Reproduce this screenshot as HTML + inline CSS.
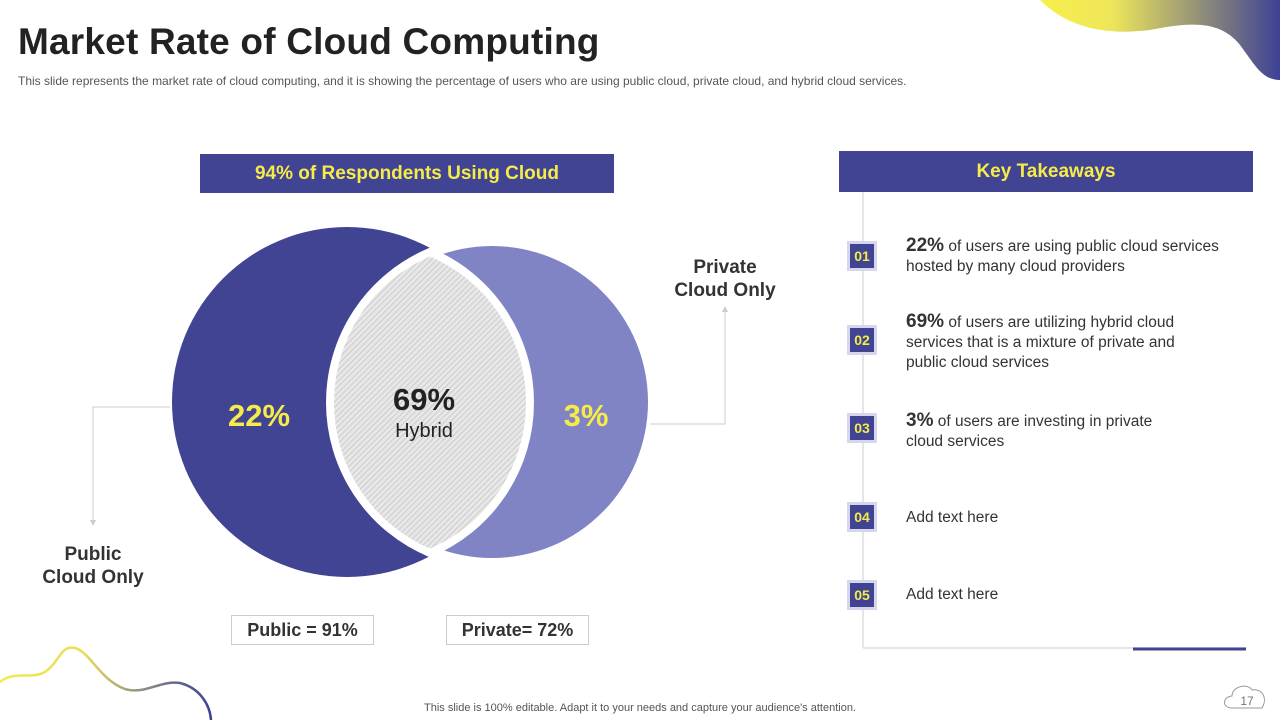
<!DOCTYPE html>
<html><head><meta charset="utf-8">
<style>
body{margin:0;width:1280px;height:720px;overflow:hidden;background:#fff;font-family:"Liberation Sans",sans-serif;position:relative}
.abs{position:absolute}
h1{position:absolute;left:18px;top:21px;margin:0;font-size:37px;font-weight:bold;color:#222;letter-spacing:0.2px}
.sub{left:18px;top:74px;font-size:12px;color:#555}
.hdr{background:#414393;color:#f5ec4a;font-weight:bold;font-size:19px;text-align:center}
.num{width:30px;height:30px;background:#414393;border:3px solid #d6d7ee;box-sizing:border-box;color:#f5ec4a;font-weight:bold;font-size:14px;text-align:center;line-height:24px;left:847px}
.txt{left:906px;font-size:15.5px;color:#333;line-height:20px}
.txt b{font-size:19px;color:#333}
.lbl{font-size:19px;font-weight:bold;color:#333;text-align:center;line-height:23px}
.box{border:1px solid #ccc;font-size:18px;font-weight:bold;color:#333;text-align:center;line-height:28px;height:28px}
</style></head><body>
<svg class="abs" style="left:0;top:0" width="1280" height="720">
<defs>
<linearGradient id="g1" x1="0" x2="1"><stop offset="0" stop-color="#f7ef4b"/><stop offset="0.3" stop-color="#eee65a"/><stop offset="1" stop-color="#3e4196"/></linearGradient>
<linearGradient id="g2" x1="0" x2="1"><stop offset="0" stop-color="#f3ea52"/><stop offset="0.4" stop-color="#e6dd5a"/><stop offset="0.7" stop-color="#888"/><stop offset="1" stop-color="#3e4196"/></linearGradient>
<pattern id="hatch" width="4" height="4" patternUnits="userSpaceOnUse" patternTransform="rotate(45)"><rect width="4" height="4" fill="#e8e8e8"/><rect width="1.2" height="4" fill="#cfcfcf"/></pattern>
</defs>
<path d="M1040,0 C1070,30 1110,35 1150,30 C1190,22 1220,20 1240,45 C1255,65 1262,80 1280,80 L1280,0 Z" fill="url(#g1)"/>
<path d="M0,682 C15,670 30,680 45,672 C60,662 60,645 75,648 C90,652 100,680 125,689 C145,695 160,680 180,683 C200,688 210,705 211,720" fill="none" stroke="url(#g2)" stroke-width="2.5"/>
<polyline points="170,407 93,407 93,522" fill="none" stroke="#ccc" stroke-width="1"/>
<polygon points="90,520 96,520 93,526" fill="#ccc"/>
<polyline points="650,424 725,424 725,310" fill="none" stroke="#ccc" stroke-width="1"/>
<polygon points="722,312 728,312 725,306" fill="#ccc"/>
<line x1="863" y1="192" x2="863" y2="648" stroke="#ddd" stroke-width="1.5"/>
<line x1="863" y1="648" x2="1246" y2="648" stroke="#ddd" stroke-width="1.5"/>
<line x1="1133" y1="649" x2="1246" y2="649" stroke="#414393" stroke-width="3"/>
<path d="M1232,708 C1222,708 1222,697 1232,696 C1232,686 1248,683 1252,690 C1262,688 1268,698 1262,708 Z" fill="none" stroke="#999" stroke-width="1"/>
<g id="venn"></g>
</svg>
<h1>Market Rate of Cloud Computing</h1>
<div class="abs sub">This slide represents the market rate of cloud computing, and it is showing the percentage of users who are using public cloud, private cloud, and hybrid cloud services.</div>
<div class="abs hdr" style="left:200px;top:154px;width:414px;height:39px;line-height:39px">94% of Respondents Using Cloud</div>
<div class="abs hdr" style="left:839px;top:151px;width:414px;height:41px;line-height:41px">Key Takeaways</div>
<div class="abs lbl" style="left:30px;top:543px;width:126px">Public<br>Cloud Only</div>
<div class="abs lbl" style="left:660px;top:256px;width:130px">Private<br>Cloud Only</div>
<div class="abs box" style="left:231px;top:615px;width:141px">Public = 91%</div>
<div class="abs box" style="left:446px;top:615px;width:141px">Private= 72%</div>
<div class="abs num" style="top:241px">01</div>
<div class="abs num" style="top:325px">02</div>
<div class="abs num" style="top:413px">03</div>
<div class="abs num" style="top:502px">04</div>
<div class="abs num" style="top:580px">05</div>
<div class="abs txt" style="top:236px"><b>22%</b> of users are using public cloud services<br>hosted by many cloud providers</div>
<div class="abs txt" style="top:312px"><b>69%</b> of users are utilizing hybrid cloud<br>services that is a mixture of private and<br>public cloud services</div>
<div class="abs txt" style="top:411px"><b>3%</b> of users are investing in private<br>cloud services</div>
<div class="abs txt" style="top:508px">Add text here</div>
<div class="abs txt" style="top:585px">Add text here</div>
<div class="abs" style="left:0;width:1280px;top:702px;text-align:center;font-size:11px;color:#555">This slide is 100% editable. Adapt it to your needs and capture your audience's attention.</div>
<div class="abs" style="left:1234px;top:694px;width:26px;text-align:center;font-size:12px;color:#777">17</div>
<script>
const segments=["Public Only","Hybrid","Private Only"];
const values=[22,69,3];
const valueLabels=["22%","69%","3%"];
const NS="http://www.w3.org/2000/svg";
const g=document.getElementById('venn');
const A={x:347,y:402,r:175},B={x:492,y:402,r:156};
function mk(t,a){const e=document.createElementNS(NS,t);for(const k in a)e.setAttribute(k,a[k]);g.appendChild(e);return e;}
const c1=mk('circle',{cx:A.x,cy:A.y,r:A.r,fill:'#414393'});


const c2=mk('circle',{cx:B.x,cy:B.y,r:B.r,fill:'#8083c4'});


// lens shape (symmetric, as in the slide)
const lx=430,ltop=252,lbot=553,hw=100;
const half=(lbot-ltop)/2,lr=(half*half+hw*hw)/(2*hw);
const lens=mk('path',{d:`M${lx},${ltop} A${lr},${lr} 0 0 0 ${lx},${lbot} A${lr},${lr} 0 0 0 ${lx},${ltop} Z`,fill:'url(#hatch)',stroke:'#fff','stroke-width':8});


function txt(x,y,s,size,col,w,name){const t=mk('text',{x:x,y:y,'text-anchor':'middle','font-size':size,fill:col,'font-weight':w,'font-family':'Liberation Sans, sans-serif'});t.textContent=s;}
txt(259,426,valueLabels[0],31,'#f5ec4a','bold','public-value');
txt(424,410,valueLabels[1],31,'#222','bold','hybrid-value');
txt(424,437,segments[1],20,'#222','normal','hybrid-label');
txt(586,426,valueLabels[2],31,'#f5ec4a','bold','private-value');
</script>
</body></html>
